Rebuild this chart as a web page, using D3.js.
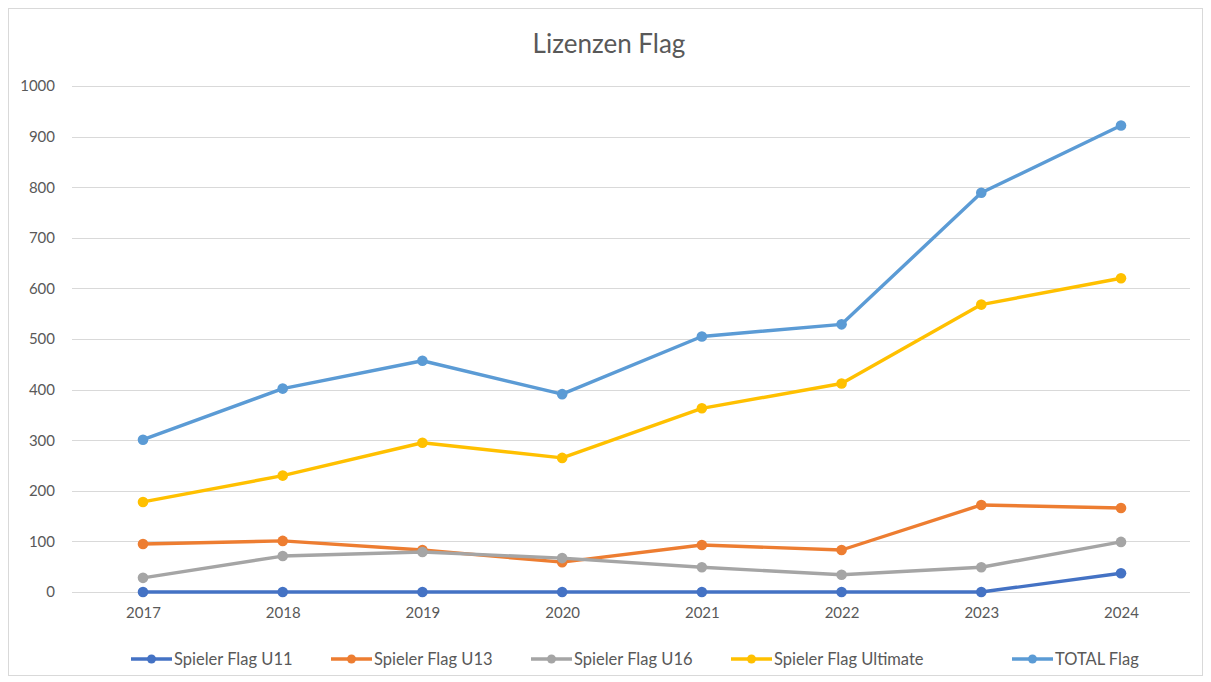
<!DOCTYPE html>
<html>
<head>
<meta charset="utf-8">
<script src="https://cdn.jsdelivr.net/npm/d3@7"></script>
<style>
  body { margin: 0; background: #fff; }
  svg { display: block; font-family: Lato, "Open Sans", sans-serif; }
</style>
</head>
<body>
<svg id="chart" width="1211" height="682"></svg>
<script>
const years = ["2017", "2018", "2019", "2020", "2021", "2022", "2023", "2024"];
const u11 = [0, 0, 0, 0, 0, 0, 0, 37];
const u13 = [95, 101, 83, 59, 93, 83, 172, 166];
const u16 = [28, 71, 79, 67, 49, 34, 49, 99];
const ultimate = [178, 230, 295, 265, 363, 412, 568, 620];
const total = [301, 402, 457, 391, 505, 529, 789, 922];
const yTicks = [0, 100, 200, 300, 400, 500, 600, 700, 800, 900, 1000];

const series = [
  { name: "Spieler Flag U11", values: u11, color: "#4472C4" },
  { name: "Spieler Flag U13", values: u13, color: "#ED7D31" },
  { name: "Spieler Flag U16", values: u16, color: "#A5A5A5" },
  { name: "Spieler Flag Ultimate", values: ultimate, color: "#FFC000" },
  { name: "TOTAL Flag", values: total, color: "#5B9BD5" }
];

const svg = d3.select("#chart");
const FONT = "Lato, Open Sans, sans-serif";

// outer chart frame
svg.append("rect").attr("x", 8.5).attr("y", 8.5).attr("width", 1194).attr("height", 667)
  .attr("fill", "#fff").attr("stroke", "#d9d9d9");

const x = d3.scalePoint().domain(years).range([143, 1121]);
const y = d3.scaleLinear().domain([0, 1000]).range([592, 86]);

// title
svg.append("text").attr("x", 609).attr("y", 53).attr("text-anchor", "middle")
  .attr("font-size", 26).attr("fill", "#595959").text("Lizenzen Flag");

// gridlines
svg.append("g").selectAll("line").data(yTicks).join("line")
  .attr("x1", 72).attr("x2", 1190)
  .attr("y1", d => Math.round(y(d)) + 0.5).attr("y2", d => Math.round(y(d)) + 0.5)
  .attr("stroke", "#d9d9d9").attr("stroke-width", 1);

// y axis labels
const yAxis = d3.axisLeft(y).tickValues(yTicks).tickFormat(d3.format("d")).tickSize(0).tickPadding(0);
const gy = svg.append("g").attr("transform", "translate(55,0)").call(yAxis);
gy.select(".domain").remove();
gy.selectAll("text").attr("font-size", 15).attr("fill", "#595959").attr("font-family", FONT);

// x axis labels
const xAxis = d3.axisBottom(x).tickSize(0).tickPadding(0);
const gx = svg.append("g").attr("transform", "translate(0,607)").call(xAxis);
gx.select(".domain").remove();
gx.selectAll("text").attr("font-size", 15).attr("fill", "#595959").attr("font-family", FONT);

// lines and markers
const line = d3.line().x((d, i) => x(years[i])).y(d => y(d));
series.forEach(s => {
  const g = svg.append("g");
  g.append("path").datum(s.values).attr("d", line)
    .attr("fill", "none").attr("stroke", s.color).attr("stroke-width", 3.4)
    .attr("stroke-linejoin", "round").attr("stroke-linecap", "round");
  g.selectAll("circle").data(s.values).join("circle")
    .attr("cx", (d, i) => x(years[i])).attr("cy", d => y(d)).attr("r", 5.3)
    .attr("fill", s.color);
});

// legend
const legendX = [131, 331, 531, 731, 1012];
const legend = svg.append("g");
series.forEach((s, i) => {
  const lx = legendX[i], ly = 659;
  legend.append("line").attr("x1", lx).attr("x2", lx + 41).attr("y1", ly).attr("y2", ly)
    .attr("stroke", s.color).attr("stroke-width", 3.4);
  legend.append("circle").attr("cx", lx + 20.5).attr("cy", ly).attr("r", 4.5).attr("fill", s.color);
  legend.append("text").attr("x", lx + 43).attr("y", ly + 6).attr("font-size", 16.5)
    .attr("fill", "#595959").attr("font-family", FONT).text(s.name);
});
</script>
</body>
</html>
